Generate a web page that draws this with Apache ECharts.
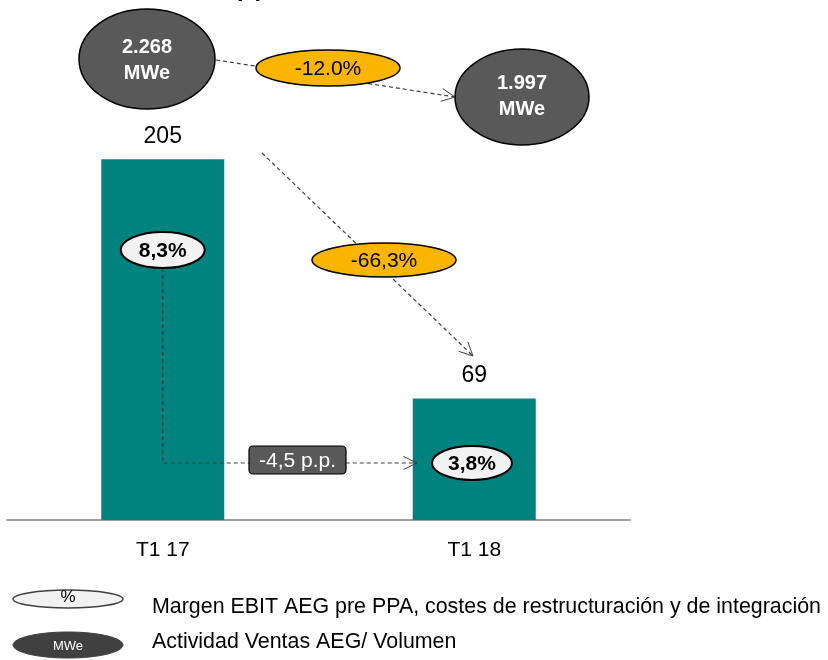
<!DOCTYPE html>
<html>
<head>
<meta charset="utf-8">
<script src="https://cdn.jsdelivr.net/npm/echarts@6/dist/echarts.min.js"></script>
<style>
html,body{margin:0;padding:0;background:#fff;}
#c{width:828px;height:660px;}
</style>
</head>
<body>
<div id="c"></div>
<script>
// ---- data ----
var categories = ['T1 17', 'T1 18'];
var ebitValues = [205, 69];
var marginLabels = ['8,3%', '3,8%'];
var volumeLabels = ['2.268', '1.997'];
var volumeUnit = 'MWe';
var volumeChange = '-12.0%';
var ebitChange = '-66,3%';
var marginChange = '-4,5 p.p.';
var legendTexts = ['Margen EBIT AEG pre PPA, costes de restructuración y de integración', 'Actividad Ventas AEG/ Volumen'];
var titleFragment = '(€)';

var FONT = '"Liberation Sans", Arial, sans-serif';
var TEAL = '#00837E';
var ORANGE = '#F9B500';
var DARK = '#595959';
var LINE = '#404040';

var chart = echarts.init(document.getElementById('c'), null, {renderer: 'canvas'});

chart.setOption({
  animation: false,
  backgroundColor: '#ffffff',
  grid: {left: 7, right: 198, top: 80, bottom: 140, containLabel: false},
  xAxis: {
    type: 'category',
    data: categories,
    axisLine: {show: true, lineStyle: {color: '#a0a0a0', width: 2}},
    axisTick: {show: false},
    axisLabel: {color: '#000', fontSize: 21, fontFamily: FONT, margin: 20}
  },
  yAxis: {
    type: 'value', min: 0, max: 250,
    show: false, splitLine: {show: false}
  },
  series: [{
    type: 'bar',
    data: ebitValues,
    barWidth: 123,
    itemStyle: {color: TEAL},
    label: {show: true, position: 'top', distance: 11, color: '#000', fontSize: 23, fontFamily: FONT}
  }]
});

function px(i, v) { return chart.convertToPixel({seriesIndex: 0}, [i, v]); }

var els = [];
function dashed(points) {
  els.push({type: 'polyline', z: 5, shape: {points: points},
    style: {stroke: LINE, lineWidth: 1.2, lineDash: [4, 3], fill: null}});
}
function head(from, to) {
  var dx = to[0] - from[0], dy = to[1] - from[1];
  var a = Math.atan2(dy, dx), L = 15, s = 0.45;
  var p1 = [to[0] - L * Math.cos(a - s), to[1] - L * Math.sin(a - s)];
  var p2 = [to[0] - L * Math.cos(a + s), to[1] - L * Math.sin(a + s)];
  els.push({type: 'polyline', z: 5, shape: {points: [p1, to, p2]},
    style: {stroke: LINE, lineWidth: 1, fill: null}});
}
function ellipse(cx, cy, rx, ry, fill, stroke, lw, z) {
  els.push({type: 'ellipse', z: z || 10, shape: {cx: cx, cy: cy, rx: rx, ry: ry},
    style: {fill: fill, stroke: stroke, lineWidth: lw}});
}
function text(x, y, t, size, color, weight, z, align, lh) {
  els.push({type: 'text', z: z || 11, x: x, y: y,
    style: {text: t, fill: color, fontSize: size, fontWeight: weight || 'normal', fontFamily: FONT,
      align: align || 'center', verticalAlign: 'middle', lineHeight: lh || size * 1.25}});
}

var b0 = px(0, 0), b1 = px(1, 0);
var x0 = b0[0], x1 = b1[0];

// title fragment at top (cut off)
els.push({type: 'text', z: 20, x: 249, y: 1,
  style: {text: titleFragment, fill: '#000', fontSize: 24, fontWeight: 'bold', fontFamily: FONT,
    align: 'center', verticalAlign: 'bottom'}});

// volume arrows
dashed([[216, 60], [455, 97]]);
head([216, 60], [455, 97]);
// EBIT arrow
dashed([[262, 153], [473, 356]]);
head([262, 153], [473, 356]);
// margin arrow
var my = 463;
dashed([[x0, 268], [x0, my], [417, my]]);
head([300, my], [417, my]);

// volume circles
ellipse(147, 59, 68, 50, DARK, '#000', 1.5);
text(147, 60, volumeLabels[0] + '\n' + volumeUnit, 20, '#fff', 'bold', 11, 'center', 26);
ellipse(522, 97, 67, 48, DARK, '#000', 1.5);
text(522, 96, volumeLabels[1] + '\n' + volumeUnit, 20, '#fff', 'bold', 11, 'center', 26);

// change ovals
ellipse(328, 68, 72, 18, ORANGE, '#000', 1.5);
text(328, 69, volumeChange, 21, '#000');
ellipse(384, 260, 72, 17, ORANGE, '#000', 1.5);
text(384, 261, ebitChange, 21, '#000');

// margin ovals
ellipse(x0, 250, 42, 18, '#f2f2f2', '#000', 2);
text(x0, 251, marginLabels[0], 21, '#000', 'bold');
ellipse(472, my, 40, 17, '#f2f2f2', '#000', 2);
text(472, my + 1, marginLabels[1], 21, '#000', 'bold');

// margin change box
els.push({type: 'rect', z: 10, shape: {x: 249, y: 446, width: 97, height: 28, r: 4},
  style: {fill: DARK, stroke: '#000', lineWidth: 1.2}});
text(297.5, 461, marginChange, 21, '#fff');

// legend
ellipse(68, 599, 55, 9, '#f2f2f2', '#404040', 1.5);
text(68, 597, '%', 17, '#000');
ellipse(68, 645, 55, 13, '#404040', '#404040', 1);
text(68, 646, volumeUnit, 13, '#fff');
text(152, 607, legendTexts[0], 21.4, '#000', 'normal', 11, 'left');
text(152, 642, legendTexts[1], 21.4, '#000', 'normal', 11, 'left');

chart.setOption({graphic: {elements: els}});
</script>
</body>
</html>
